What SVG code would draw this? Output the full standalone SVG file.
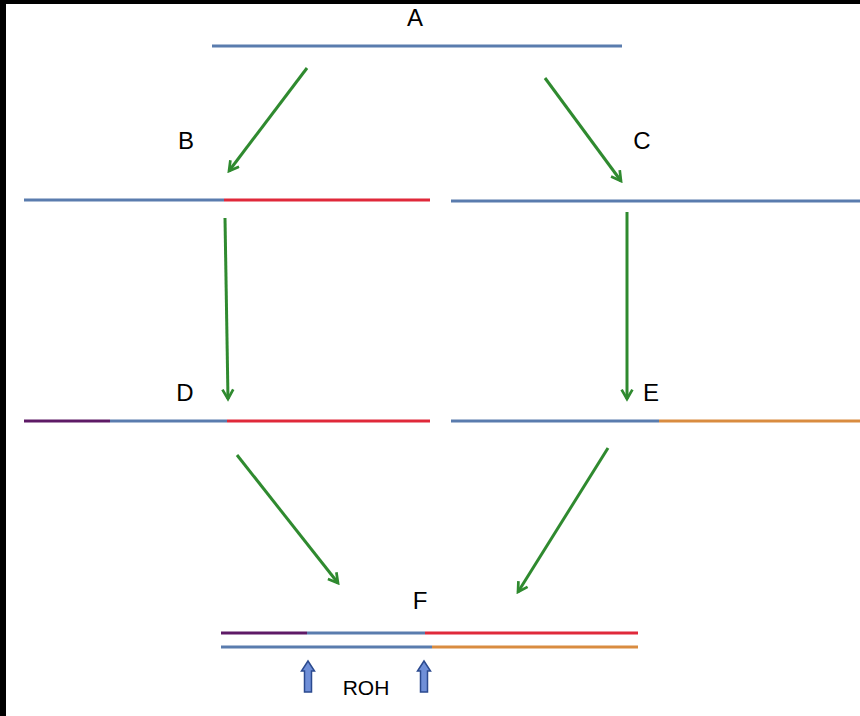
<svg xmlns="http://www.w3.org/2000/svg" width="860" height="716" viewBox="0 0 860 716">
<style>
.seg{stroke-width:3;fill:none;stroke-linecap:butt}
.bl{stroke:#5a7cae}
.rd{stroke:#e0293a}
.pu{stroke:#5e1a66}
.or{stroke:#d98c40}
.arr{stroke:#2f8a2f;stroke-width:3;fill:none;marker-end:url(#ah)}
.lbl{font-family:"Liberation Sans",Arial,sans-serif;font-size:24px;fill:#000;text-anchor:middle}
.roh{font-family:"Liberation Sans",Arial,sans-serif;font-size:21px;fill:#000;text-anchor:middle}
.up{fill:#6f8fd8;stroke:#2b4a8f;stroke-width:1.5}
</style>
<defs>
<marker id="ah" viewBox="0 0 10 10" refX="8" refY="5" markerWidth="4.5" markerHeight="4.5" orient="auto" markerUnits="strokeWidth">
<path d="M1,1 L8,5 L1,9" fill="none" stroke="#2f8a2f" stroke-width="2"/>
</marker>
</defs>
<rect x="0" y="0" width="860" height="716" fill="#000"/>
<rect x="6" y="4" width="854" height="712" fill="#fff"/>

<g id="A">
<line class="seg bl" x1="212" y1="46" x2="622" y2="46"/>
<text class="lbl" x="415" y="26">A</text>
</g>
<g id="B">
<line class="seg bl" x1="24" y1="200" x2="224" y2="200"/>
<line class="seg rd" x1="224" y1="200" x2="430" y2="200"/>
<text class="lbl" x="186" y="149">B</text>
</g>
<g id="C">
<line class="seg bl" x1="451" y1="201" x2="860" y2="201"/>
<text class="lbl" x="642" y="149">C</text>
</g>
<g id="D">
<line class="seg pu" x1="24" y1="421" x2="110" y2="421"/>
<line class="seg bl" x1="110" y1="421" x2="227" y2="421"/>
<line class="seg rd" x1="227" y1="421" x2="430" y2="421"/>
<text class="lbl" x="185" y="401">D</text>
</g>
<g id="E">
<line class="seg bl" x1="451" y1="421" x2="659" y2="421"/>
<line class="seg or" x1="659" y1="421" x2="860" y2="421"/>
<text class="lbl" x="651" y="401">E</text>
</g>
<g id="F">
<line class="seg pu" x1="221" y1="633" x2="307" y2="633"/>
<line class="seg bl" x1="307" y1="633" x2="425" y2="633"/>
<line class="seg rd" x1="425" y1="633" x2="638" y2="633"/>
<line class="seg bl" x1="221" y1="647" x2="432" y2="647"/>
<line class="seg or" x1="432" y1="647" x2="638" y2="647"/>
<text class="lbl" x="420" y="609">F</text>
</g>
<g id="ROH">
<path class="up" d="M308,661 L314.5,671 L311.5,671 L311.5,692 L304.5,692 L304.5,671 L301.5,671 Z"/>
<path class="up" d="M424,661 L430.5,671 L427.5,671 L427.5,692 L420.5,692 L420.5,671 L417.5,671 Z"/>
<text class="roh" x="366" y="695">ROH</text>
</g>
<g id="connectors">
<line class="arr" x1="307" y1="68" x2="229" y2="171"/>
<line class="arr" x1="545" y1="78" x2="621" y2="181"/>
<line class="arr" x1="225" y1="218" x2="228" y2="399"/>
<line class="arr" x1="627" y1="212" x2="627" y2="399"/>
<line class="arr" x1="237" y1="455" x2="338" y2="583"/>
<line class="arr" x1="608" y1="448" x2="518" y2="592"/>
</g>
</svg>
